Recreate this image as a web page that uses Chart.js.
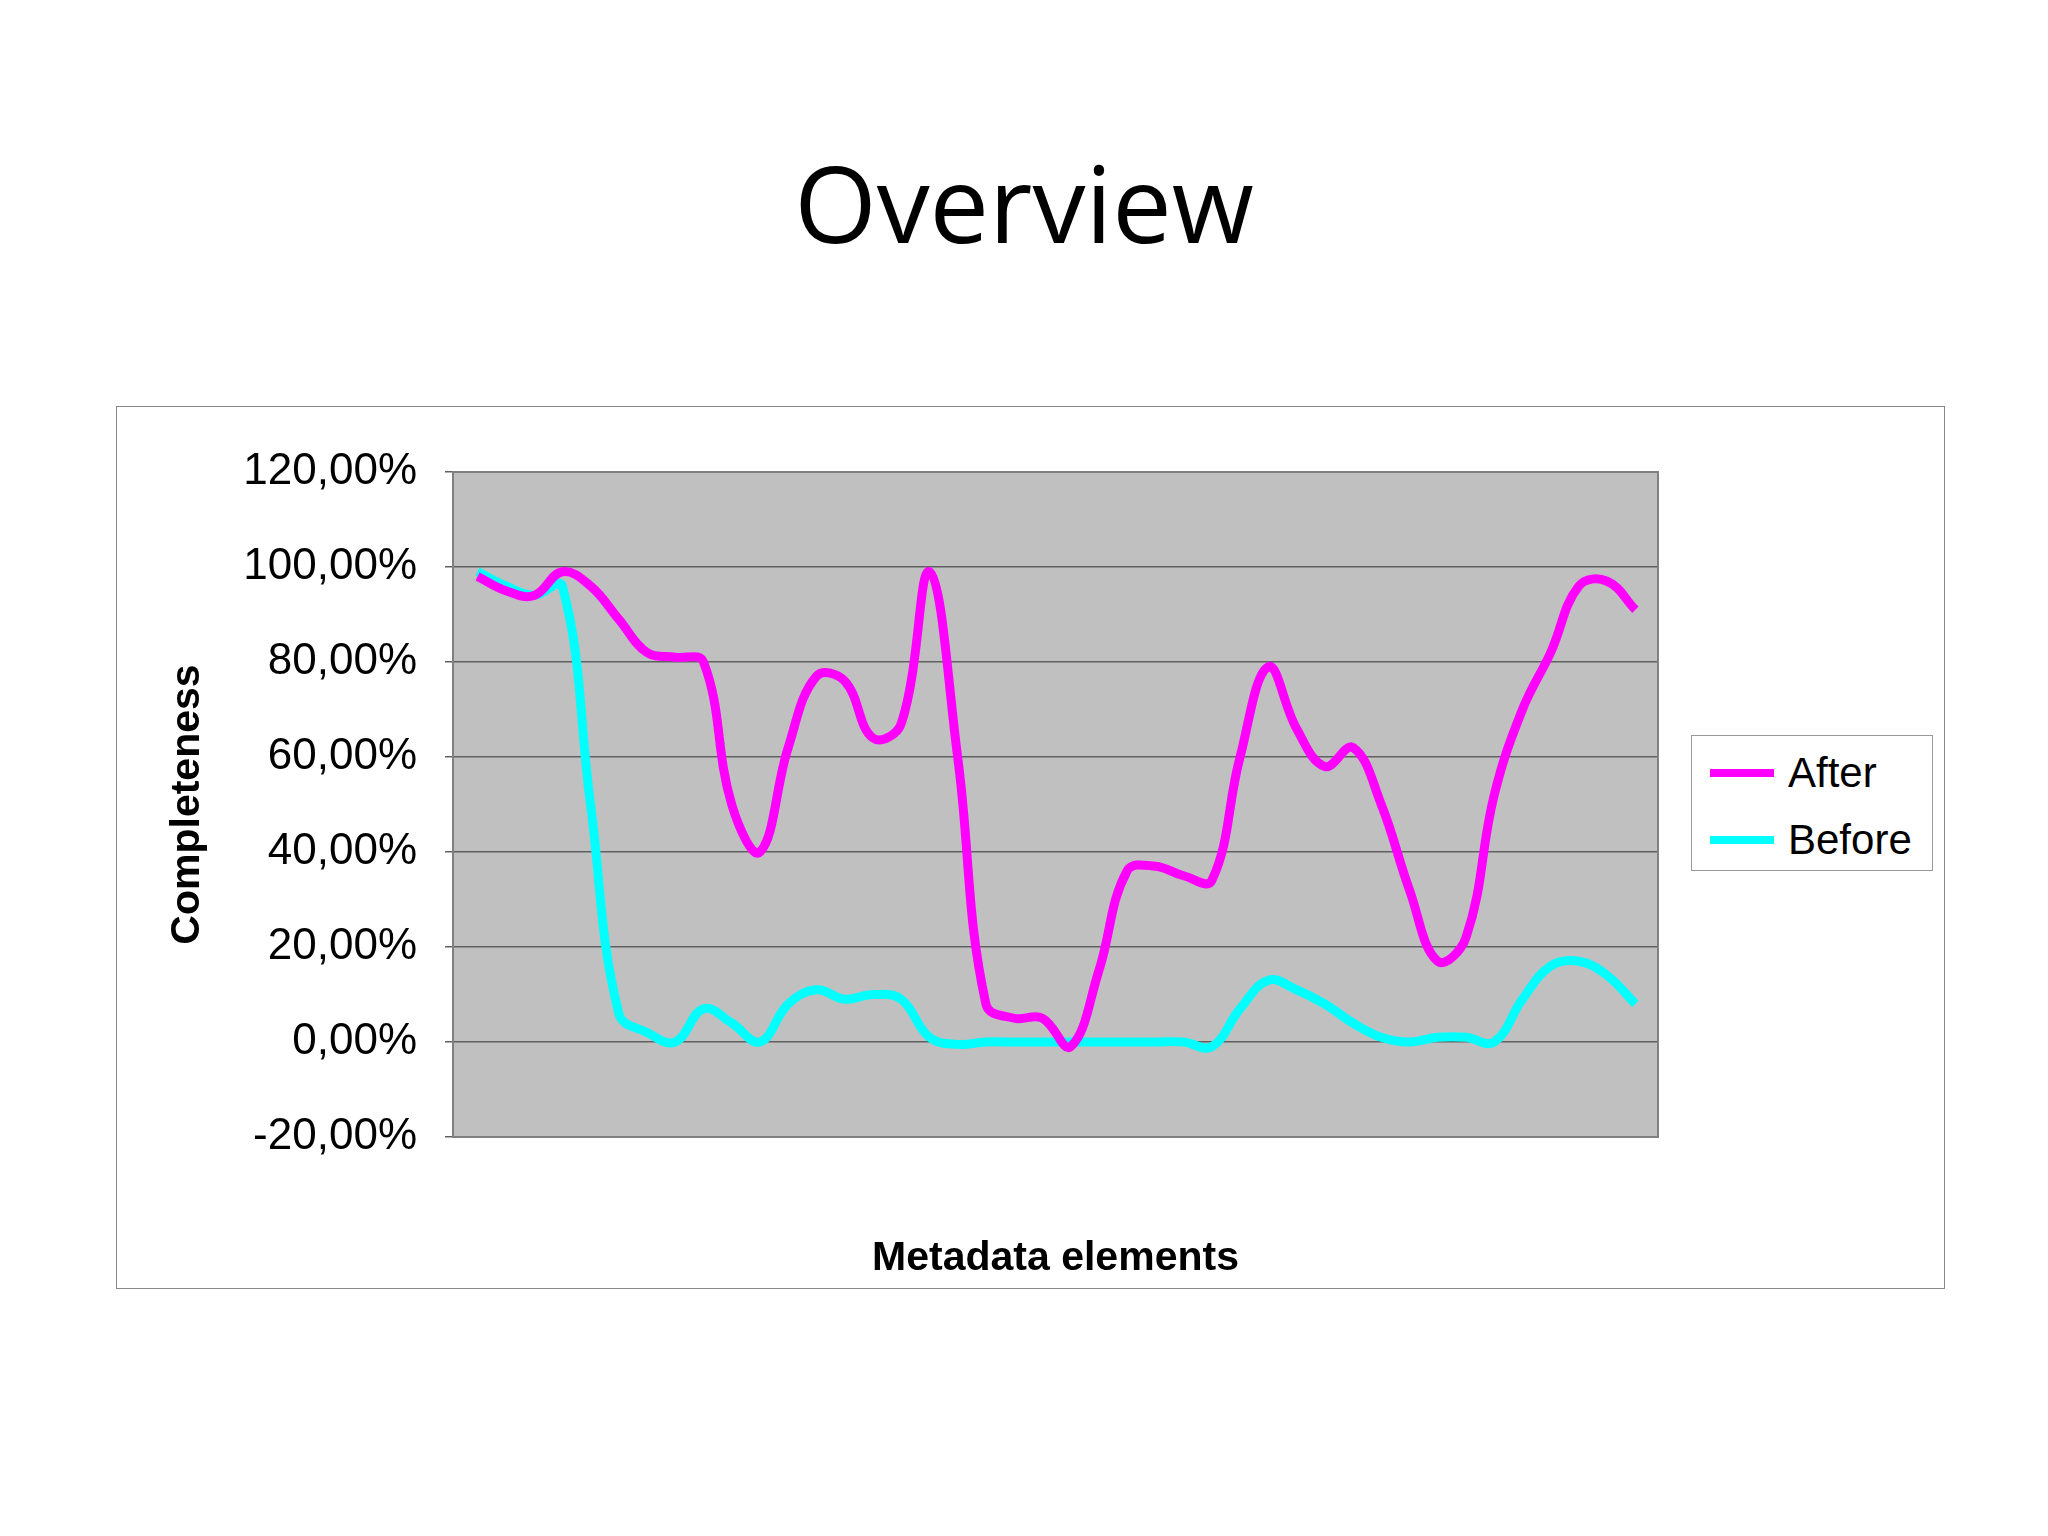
<!DOCTYPE html>
<html>
<head>
<meta charset="utf-8">
<script src="https://cdn.jsdelivr.net/npm/chart.js@4"></script>
<style>
  body { margin: 0; width: 2048px; height: 1536px; background: #fff; position: relative; font-family: "Liberation Sans", Arial, sans-serif; }
  #title { position: absolute; top: 130px; width: 100%; text-align: center; font-family: "Open Sans", "Noto Sans", sans-serif; font-size: 106px; color: #000; }
  #box { position: absolute; left: 116px; top: 406px; width: 1829px; height: 883px; border: 1.5px solid #888; box-sizing: border-box; }
  #legend { position: absolute; left: 1691px; top: 735px; width: 242px; height: 136px; border: 1.5px solid #999; box-sizing: border-box; background: #fff; font-size: 42px; }
  .item { position: absolute; left: 18px; display: flex; align-items: center; }
  .sw { width: 64px; height: 8px; margin-right: 14px; }
</style>
</head>
<body>
<div id="title">Overview</div>
<div id="box"><canvas id="c" width="1826" height="880"></canvas></div>
<div id="legend">
  <div class="item" style="top:13px"><div class="sw" style="background:#ff00ff"></div>After</div>
  <div class="item" style="top:80px"><div class="sw" style="background:#00ffff"></div>Before</div>
</div>
<script>
const afterValues = [98, 95, 94, 99, 96, 89, 82, 81, 80, 50, 40, 62, 77, 76, 64, 67, 99, 60, 8, 5, 5, -1, 15, 36, 37, 35, 34, 60, 79, 66, 58, 62, 50, 32, 17, 22, 52, 70, 82, 96, 97, 91];
const beforeValues = [99, 96, 94, 96, 50, 6, 2, 0, 7, 4, 0, 8, 11, 9, 10, 9, 1, -0.5, 0, 0, 0, 0, 0, 0, 0, 0, -1, 7, 13, 11, 8, 4, 1, 0, 1, 1, 0, 9, 16, 17, 14, 8];
const yTicks = [-20, 0, 20, 40, 60, 80, 100, 120];

const toPoints = arr => arr.map((v, i) => ({ x: i, y: v }));

const plotBg = {
  id: 'plotBg',
  beforeDraw(chart) {
    const { ctx, chartArea: a } = chart;
    ctx.save();
    ctx.fillStyle = '#c0c0c0';
    ctx.fillRect(a.left, a.top, a.width, a.height);
    ctx.restore();
  },
  afterDatasetsDraw(chart) {
    const { ctx, chartArea: a } = chart;
    ctx.save();
    ctx.strokeStyle = '#808080';
    ctx.lineWidth = 2;
    ctx.strokeRect(a.left, a.top, a.width, a.height);
    ctx.restore();
  }
};

new Chart(document.getElementById('c'), {
  type: 'line',
  data: {
    datasets: [
      { label: 'After', data: toPoints(afterValues), borderColor: '#ff00ff', borderWidth: 9, pointRadius: 0, tension: 0.4 },
      { label: 'Before', data: toPoints(beforeValues), borderColor: '#00ffff', borderWidth: 9, pointRadius: 0, tension: 0.4 }
    ]
  },
  options: {
    responsive: false,
    animation: false,
    layout: { padding: { top: 65, right: 285, bottom: 0, left: 0 } },
    plugins: { legend: { display: false }, tooltip: { enabled: false } },
    scales: {
      x: {
        type: 'linear', min: -0.87, max: 41.8,
        grid: { display: false }, border: { display: false },
        ticks: { display: false },
        title: { display: true, text: 'Metadata elements', color: '#000', font: { size: 41, weight: 'bold', family: 'Liberation Sans' }, padding: { top: 10 } },
        afterFit(s) { s.height = 150; }
      },
      y: {
        min: -20, max: 120,
        afterBuildTicks(s) { s.ticks = yTicks.map(v => ({ value: v })); },
        grid: { color: '#606060', lineWidth: 1.5, drawTicks: true, tickLength: 8 },
        border: { display: false },
        ticks: { color: '#000', font: { size: 44, family: 'Liberation Sans' }, padding: 28,
          callback: v => v.toFixed(2).replace('.', ',') + '%' },
        title: { display: true, text: 'Completeness', color: '#000', font: { size: 41, weight: 'bold', family: 'Liberation Sans' }, padding: { top: 46, bottom: 0 } },
        afterFit(s) { s.width = 336; }
      }
    }
  },
  plugins: [plotBg]
});
</script>
</body>
</html>
